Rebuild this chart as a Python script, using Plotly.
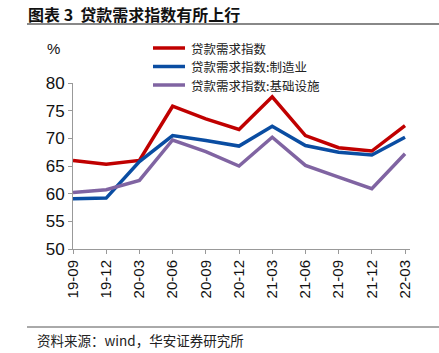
import plotly.graph_objects as go

categories = ["19-09", "19-12", "20-03", "20-06", "20-09", "20-12",
              "21-03", "21-06", "21-09", "21-12", "22-03"]
loan_demand = [66.0, 65.3, 66.0, 75.8, 73.5, 71.6, 77.5, 70.5, 68.3, 67.7, 72.3]
loan_manufacturing = [59.1, 59.2, 65.8, 70.5, 69.6, 68.6, 72.2, 68.7, 67.5, 67.0, 70.2]
loan_infrastructure = [60.2, 60.7, 62.4, 69.7, 67.6, 65.0, 70.2, 65.1, 63.0, 60.9, 67.2]
series_names = ["贷款需求指数", "贷款需求指数:制造业", "贷款需求指数:基础设施"]
y_ticks = [50, 55, 60, 65, 70, 75, 80]

W, H = 439, 353
L, R, T, B = 73, 29, 83, 104
pw, ph = W - L - R, H - T - B

def px(x):
    return (x - L) / pw

def py(y):
    return (H - B - y) / ph

colors = ["#C00000", "#0A4DA2", "#8064A2"]
xs = list(range(len(categories)))

fig = go.Figure()
for name, vals, c in zip(series_names,
                         [loan_demand, loan_manufacturing, loan_infrastructure],
                         colors):
    fig.add_trace(go.Scatter(x=xs, y=vals, mode="lines", name=name,
                             line=dict(color=c, width=3.5), showlegend=False))

cjk = "Noto Sans CJK SC"
fig.update_layout(
    width=W, height=H,
    margin=dict(l=L, r=R, t=T, b=B),
    paper_bgcolor="white", plot_bgcolor="white",
    showlegend=False,
    xaxis=dict(range=[0, 10.15], tickmode="array", tickvals=xs, ticktext=categories,
               tickangle=-90, showgrid=False, zeroline=False,
               showline=True, linecolor="#999", linewidth=1,
               ticks="outside", ticklen=4, tickcolor="#999",
               tickfont=dict(family="Liberation Sans, Arial", size=15, color="#111")),
    yaxis=dict(range=[50, 80], tickmode="array", tickvals=y_ticks,
               showgrid=False, zeroline=False,
               showline=True, linecolor="#999", linewidth=1,
               ticks="outside", ticklen=4, tickcolor="#999",
               tickfont=dict(family="Liberation Sans, Arial", size=17, color="#111")),
)

# legend drawn by hand to match the reference spacing
for i, (name, c) in enumerate(zip(series_names, colors)):
    yy = 48 + i * 18.5
    fig.add_shape(type="line", xref="paper", yref="paper",
                  x0=px(153), x1=px(185), y0=py(yy), y1=py(yy),
                  line=dict(color=c, width=3.5))
    fig.add_annotation(xref="paper", yref="paper", x=px(189), y=py(yy),
                       xanchor="left", yanchor="middle", showarrow=False,
                       text=name, font=dict(family=cjk, size=12.5, color="#222"))

fig.add_annotation(xref="paper", yref="paper", x=px(26), y=py(14),
                   xanchor="left", yanchor="middle", showarrow=False,
                   text="<b>图表 3  贷款需求指数有所上行</b>",
                   font=dict(family=cjk, size=16, color="#111"))
fig.add_shape(type="line", xref="paper", yref="paper",
              x0=px(27), x1=px(439), y0=py(24), y1=py(24),
              line=dict(color="#888", width=2))
fig.add_annotation(xref="paper", yref="paper", x=px(53), y=py(48),
                   xanchor="center", yanchor="middle", showarrow=False,
                   text="%", font=dict(family="Liberation Sans, Arial", size=15, color="#111"))
fig.add_shape(type="line", xref="paper", yref="paper",
              x0=px(27), x1=px(439), y0=py(327), y1=py(327),
              line=dict(color="#555", width=1))
fig.add_annotation(xref="paper", yref="paper", x=px(35), y=py(340),
                   xanchor="left", yanchor="middle", showarrow=False,
                   text="资料来源：wind，华安证券研究所",
                   font=dict(family=cjk, size=13.5, color="#222"))

fig.write_html("out.html")
